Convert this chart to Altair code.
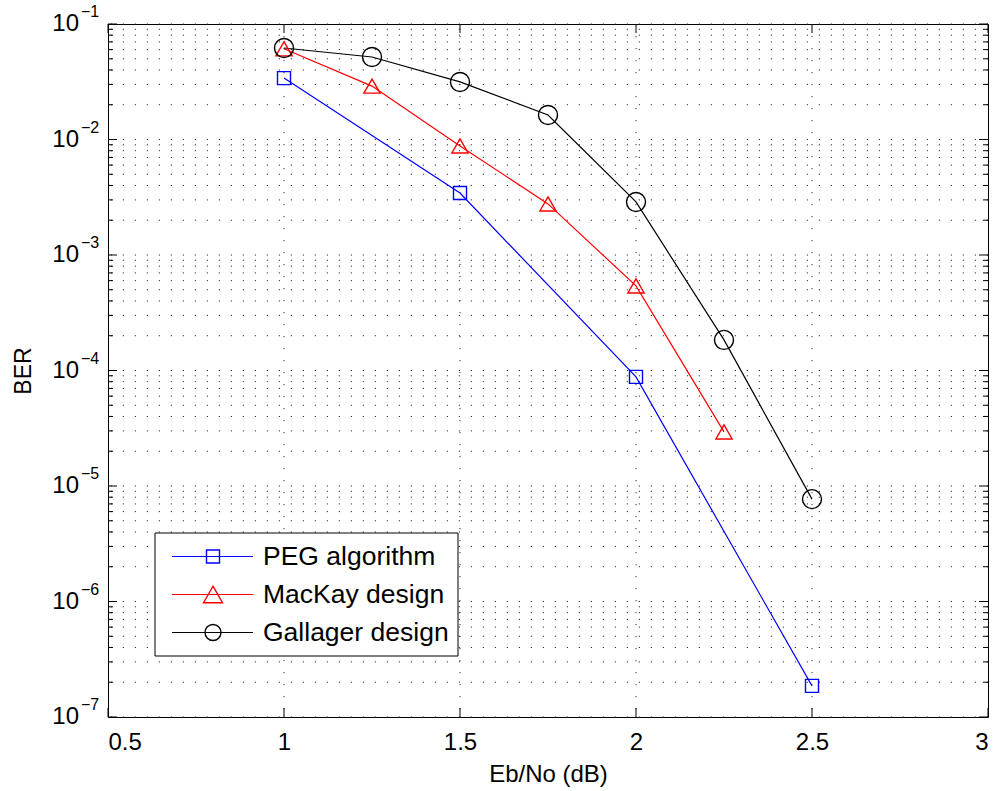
import altair as alt
import pandas as pd

# ---------------- data ----------------
ebno_peg = [1.0, 1.5, 2.0, 2.5]
ber_peg = [3.4e-2, 3.44e-3, 8.8e-5, 1.86e-7]

ebno_mackay = [1.0, 1.25, 1.5, 1.75, 2.0, 2.25]
ber_mackay = [6.1e-2, 2.9e-2, 8.8e-3, 2.77e-3, 5.4e-4, 2.94e-5]

ebno_gallager = [1.0, 1.25, 1.5, 1.75, 2.0, 2.25, 2.5]
ber_gallager = [6.2e-2, 5.18e-2, 3.15e-2, 1.63e-2, 2.88e-3, 1.84e-4, 7.7e-6]

series_names = ["PEG algorithm", "MacKay design", "Gallager design"]
series_colors = ["#0000ff", "#ff0000", "#000000"]
series_shapes = ["square", "triangle-up", "circle"]
series_sizes = [169, 361, 256]

x_ticks = [0.5, 1.0, 1.5, 2.0, 2.5, 3.0]
y_exponents = [-7, -6, -5, -4, -3, -2, -1]
y_exp_labels = ["\u22127", "\u22126", "\u22125", "\u22124", "\u22123", "\u22122", "\u22121"]
minor_mults = [2, 3, 4, 5, 6, 7, 8, 9]

FONT = "Liberation Sans"
W, H = 880, 693

# ---------------- tables ----------------
rows = []
for name, xs, ys in [(series_names[0], ebno_peg, ber_peg),
                     (series_names[1], ebno_mackay, ber_mackay),
                     (series_names[2], ebno_gallager, ber_gallager)]:
    for i, (a, b) in enumerate(zip(xs, ys)):
        rows.append({"x": a, "y": b, "series": name, "order": i})
df = pd.DataFrame(rows)

y_major = [10.0 ** e for e in y_exponents]
y_minor = [m * 10.0 ** e for e in y_exponents[:-1] for m in minor_mults]
df_ymajor = pd.DataFrame({"y": y_major})
df_yminor = pd.DataFrame({"y": y_minor})
df_ygrid = pd.DataFrame({"y": y_major + y_minor})
df_xt = pd.DataFrame({"x": x_ticks})
df_xgrid = pd.DataFrame({"x": x_ticks[1:-1]})
df_ylab = pd.DataFrame({"y": y_major, "base": ["10"] * len(y_major), "exp": y_exp_labels})

xscale = alt.Scale(domain=[0.5, 3.0], nice=False, zero=False)
yscale = alt.Scale(type="log", domain=[1e-7, 1e-1], nice=False)

xaxis = alt.Axis(values=x_ticks, format="~g", grid=False, ticks=False, tickSize=0,
                 domain=False, labelFont=FONT, labelFontSize=24, labelColor="black",
                 labelPadding=13, labelBaseline="top",
                 title="Eb/No (dB)", titleFont=FONT, titleFontSize=24, titleFontWeight="normal",
                 titleColor="black", titleY=57, titleBaseline="middle")
yaxis = alt.Axis(labels=False, ticks=False, grid=False, domain=False,
                 title="BER", titleFont=FONT, titleFontSize=23, titleFontWeight="normal",
                 titleColor="black", titleX=-85, titleY=H / 2, titleBaseline="middle",
                 titleAlign="center", titleAngle=270)

X = lambda: alt.X("x:Q", scale=xscale, axis=xaxis)
Y = lambda: alt.Y("y:Q", scale=yscale, axis=yaxis)

grid_style = dict(color="#333333", strokeWidth=1, strokeDash=[1.2, 10.8])

ygrid = alt.Chart(df_ygrid).mark_rule(**grid_style).encode(y=Y())
xgrid = alt.Chart(df_xgrid).mark_rule(**grid_style).encode(x=X())

tick_style = dict(color="black", strokeWidth=1)
ymaj_l = alt.Chart(df_ymajor).mark_rule(**tick_style).encode(y=Y(), x=alt.value(0), x2=alt.value(9))
ymaj_r = alt.Chart(df_ymajor).mark_rule(**tick_style).encode(y=Y(), x=alt.value(W), x2=alt.value(W - 9))
ymin_l = alt.Chart(df_yminor).mark_rule(**tick_style).encode(y=Y(), x=alt.value(0), x2=alt.value(5))
ymin_r = alt.Chart(df_yminor).mark_rule(**tick_style).encode(y=Y(), x=alt.value(W), x2=alt.value(W - 5))
xt_b = alt.Chart(df_xt).mark_rule(**tick_style).encode(x=X(), y=alt.value(H), y2=alt.value(H - 9))
xt_t = alt.Chart(df_xt).mark_rule(**tick_style).encode(x=X(), y=alt.value(0), y2=alt.value(9))

ylab_base = alt.Chart(df_ylab).mark_text(align="right", baseline="middle", font=FONT,
                                         fontSize=24, color="black").encode(
    y=Y(), x=alt.value(-29), text="base:N")
ylab_exp = alt.Chart(df_ylab).mark_text(align="left", baseline="middle", font=FONT,
                                        fontSize=16, color="black", dy=-12).encode(
    y=Y(), x=alt.value(-27), text="exp:N")

color_scale = alt.Scale(domain=series_names, range=series_colors)
shape_scale = alt.Scale(domain=series_names, range=series_shapes)
size_scale = alt.Scale(domain=series_names, range=series_sizes)

lines = alt.Chart(df).mark_line(strokeWidth=1.2).encode(
    x=X(), y=Y(), order="order:Q",
    color=alt.Color("series:N", scale=color_scale, legend=None),
    detail="series:N")
points = alt.Chart(df).mark_point(filled=False, strokeWidth=1.4, opacity=1).encode(
    x=X(), y=Y(),
    color=alt.Color("series:N", scale=color_scale, legend=None),
    shape=alt.Shape("series:N", scale=shape_scale, legend=None),
    size=alt.Size("series:N", scale=size_scale, legend=None))

# ---------------- legend (drawn by hand, MATLAB style) ----------------
one = pd.DataFrame({"k": [0]})
legend_layers = [
    alt.Chart(one).mark_rect(fill="white", stroke="black", strokeWidth=1).encode(
        x=alt.value(47), x2=alt.value(350), y=alt.value(509), y2=alt.value(632))
]
row_y = [532.5, 570.5, 608.5]
for name, col, shp, sz, yy in zip(series_names, series_colors, series_shapes, series_sizes, row_y):
    legend_layers.append(alt.Chart(one).mark_rule(color=col, strokeWidth=1.2).encode(
        x=alt.value(64), x2=alt.value(145), y=alt.value(yy)))
    legend_layers.append(alt.Chart(one).mark_point(shape=shp, size=sz, filled=False, color=col,
                                                   strokeWidth=1.4, opacity=1).encode(
        x=alt.value(105), y=alt.value(yy)))
    legend_layers.append(alt.Chart(one).mark_text(text=name, align="left", baseline="middle",
                                                  font=FONT, fontSize=26.5, color="black").encode(
        x=alt.value(155), y=alt.value(yy)))

chart = alt.layer(ygrid, xgrid, ymaj_l, ymaj_r, ymin_l, ymin_r, xt_b, xt_t,
                  ylab_base, ylab_exp, lines, points, *legend_layers).properties(
    width=W, height=H,
    autosize=alt.AutoSizeParams(type="none"),
    padding={"left": 108, "top": 24, "right": 10, "bottom": 74},
    background="white",
).configure_view(stroke="black", strokeWidth=1)

chart.save("out.html", embed_options={"renderer": "svg", "actions": False})
